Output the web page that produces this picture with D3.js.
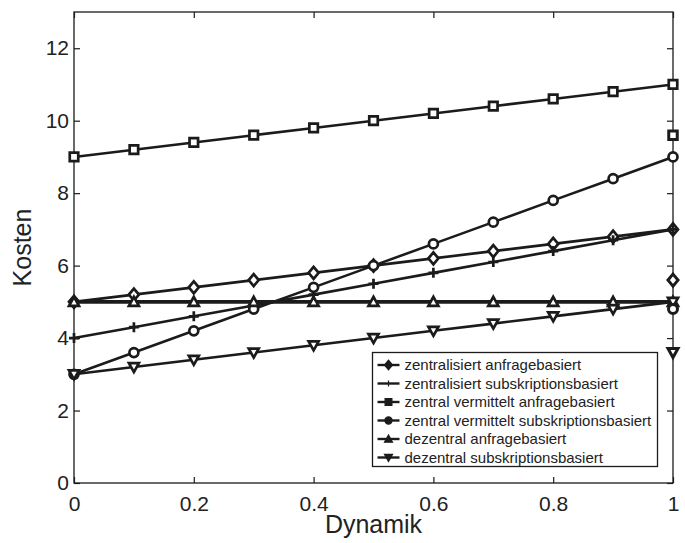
<!DOCTYPE html>
<html>
<head>
<meta charset="utf-8">
<script src="https://cdn.jsdelivr.net/npm/d3@7"></script>
<style>
  body { margin: 0; background: #fff; }
  svg { display: block; font-family: "Liberation Sans", Arial, sans-serif; }
</style>
</head>
<body>
<svg id="chart"></svg>
<script>
const width = 685, height = 543;

// data
const dynamik = [0, 0.1, 0.2, 0.3, 0.4, 0.5, 0.6, 0.7, 0.8, 0.9, 1];
const zentralAnfrage = [5, 5.2, 5.4, 5.6, 5.8, 6.0, 6.2, 6.4, 6.6, 6.8, 7];
const zentralSubskription = [4, 4.3, 4.6, 4.9, 5.2, 5.5, 5.8, 6.1, 6.4, 6.7, 7];
const vermitteltAnfrage = [9, 9.2, 9.4, 9.6, 9.8, 10, 10.2, 10.4, 10.6, 10.8, 11];
const vermitteltSubskription = [3, 3.6, 4.2, 4.8, 5.4, 6.0, 6.6, 7.2, 7.8, 8.4, 9];
const dezentralAnfrage = [5, 5, 5, 5, 5, 5, 5, 5, 5, 5, 5];
const dezentralSubskription = [3, 3.2, 3.4, 3.6, 3.8, 4.0, 4.2, 4.4, 4.6, 4.8, 5];

const seriesNames = [
  "zentralisiert anfragebasiert",
  "zentralisiert subskriptionsbasiert",
  "zentral vermittelt anfragebasiert",
  "zentral vermittelt subskriptionsbasiert",
  "dezentral anfragebasiert",
  "dezentral subskriptionsbasiert"
];
const seriesMarkers = ["diamond", "plus", "square", "circle", "triangleUp", "triangleDown"];

// lone markers sitting on the right edge
const strayX = [1, 1, 1, 1];
const strayY = [9.6, 5.6, 4.8, 3.6];
const strayMarkers = ["square", "diamond", "circle", "triangleDown"];

const xTicks = [0, 0.2, 0.4, 0.6, 0.8, 1];
const yTicks = [0, 2, 4, 6, 8, 10, 12];

const allSeries = [zentralAnfrage, zentralSubskription, vermitteltAnfrage,
                   vermitteltSubskription, dezentralAnfrage, dezentralSubskription];

const margin = {left: 74, right: 12, top: 12, bottom: 60};
const ink = "#1b1b1b";

const svg = d3.select("#chart").attr("width", width).attr("height", height);
svg.append("rect").attr("width", width).attr("height", height).attr("fill", "#fff");

const x = d3.scaleLinear().domain([0, 1]).range([margin.left, width - margin.right]);
const y = d3.scaleLinear().domain([0, 13]).range([height - margin.bottom, margin.top]);

function markerPath(type, s) {
  const h = s / 2;
  switch (type) {
    case "diamond": return `M0,${-h * 1.2}L${h},0L0,${h * 1.2}L${-h},0Z`;
    case "square": return `M${-h * 0.85},${-h * 0.85}h${s * 0.85}v${s * 0.85}h${-s * 0.85}Z`;
    case "circle": return d3.symbol(d3.symbolCircle, Math.PI * (h * 0.9) ** 2)();
    case "triangleUp": return `M0,${-h}L${h},${h * 0.8}L${-h},${h * 0.8}Z`;
    case "triangleDown": return `M0,${h}L${h},${-h * 0.8}L${-h},${-h * 0.8}Z`;
    case "plus": return `M${-h},0H${h}M0,${-h}V${h}`;
  }
}

// axes box
const plot = svg.append("g");
plot.append("rect")
  .attr("x", x(0)).attr("y", y(13))
  .attr("width", x(1) - x(0)).attr("height", y(0) - y(13))
  .attr("fill", "none").attr("stroke", ink).attr("stroke-width", 1.3);

const axisStyle = g => {
  g.select(".domain").remove();
  g.selectAll("line").attr("stroke", ink).attr("stroke-width", 1.2);
  g.selectAll("text").attr("fill", "#222").style("font-size", "21px");
};

svg.append("g")
  .attr("transform", `translate(0,${y(0)})`)
  .call(d3.axisBottom(x).tickValues(xTicks).tickSize(-6).tickPadding(13)
    .tickFormat(d => d === 0 || d === 1 ? d3.format("d")(d) : d3.format(".1f")(d)))
  .call(axisStyle);
svg.append("g")
  .attr("transform", `translate(0,${y(13)})`)
  .call(d3.axisTop(x).tickValues(xTicks).tickSize(-6).tickFormat(""))
  .call(axisStyle);
svg.append("g")
  .attr("transform", `translate(${x(0)},0)`)
  .call(d3.axisLeft(y).tickValues(yTicks).tickSize(-6).tickPadding(5))
  .call(axisStyle);
svg.append("g")
  .attr("transform", `translate(${x(1)},0)`)
  .call(d3.axisRight(y).tickValues(yTicks).tickSize(-6).tickFormat(""))
  .call(axisStyle);

// axis titles
svg.append("text")
  .attr("x", (x(0) + x(1)) / 2).attr("y", 533)
  .attr("text-anchor", "middle").attr("fill", "#222")
  .style("font-size", "25px").text("Dynamik");
svg.append("text")
  .attr("transform", `translate(31,${y(6.5)}) rotate(-90)`)
  .attr("text-anchor", "middle").attr("fill", "#222")
  .style("font-size", "25px").text("Kosten");

// series lines and markers
const line = d3.line().x((d, i) => x(dynamik[i])).y(d => y(d));
allSeries.forEach((vals, k) => {
  const g = plot.append("g");
  g.append("path")
    .attr("d", line(vals))
    .attr("fill", "none").attr("stroke", ink)
    .attr("stroke-width", k === 4 ? 3.6 : 2.6);
  g.selectAll("path.mk")
    .data(vals)
    .enter().append("path")
    .attr("class", "mk")
    .attr("transform", (d, i) => `translate(${x(dynamik[i])},${y(d)})`)
    .attr("d", markerPath(seriesMarkers[k], 10))
    .attr("fill", seriesMarkers[k] === "plus" ? "none" : "#fff")
    .attr("stroke", ink).attr("stroke-width", 2.7);
});

plot.selectAll("path.stray")
  .data(strayY)
  .enter().append("path")
  .attr("class", "stray")
  .attr("transform", (d, i) => `translate(${x(strayX[i])},${y(d)})`)
  .attr("d", (d, i) => markerPath(strayMarkers[i], 10))
  .attr("fill", "#fff").attr("stroke", ink).attr("stroke-width", 3);

// legend
const lg = svg.append("g").attr("transform", "translate(372.5,352.5)");
lg.append("rect")
  .attr("width", 285).attr("height", 114)
  .attr("fill", "#fff").attr("stroke", ink).attr("stroke-width", 1.3);
const rowH = 18.5;
seriesNames.forEach((name, k) => {
  const ry = 12.5 + k * rowH;
  lg.append("line")
    .attr("x1", 5).attr("x2", 27).attr("y1", ry).attr("y2", ry)
    .attr("stroke", ink).attr("stroke-width", 2.4);
  lg.append("path")
    .attr("transform", `translate(16,${ry})`)
    .attr("d", markerPath(seriesMarkers[k], seriesMarkers[k] === "plus" ? 6 : 8))
    .attr("fill", ink).attr("stroke", ink).attr("stroke-width", 1.2);
  lg.append("text")
    .attr("x", 32).attr("y", ry + 5.3)
    .attr("fill", "#222").style("font-size", "15px")
    .text(name);
});
</script>
</body>
</html>
